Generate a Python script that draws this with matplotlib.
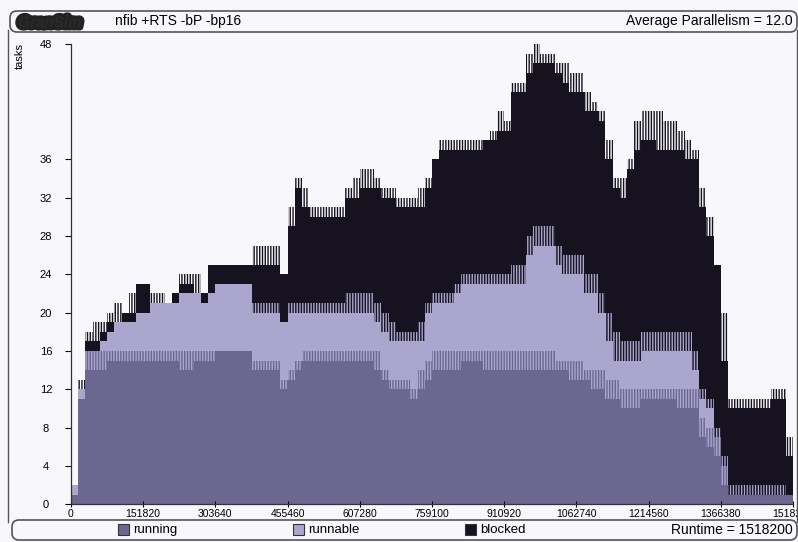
import numpy as np
import matplotlib
matplotlib.use("Agg")
import matplotlib.pyplot as plt
from matplotlib.patches import FancyBboxPatch, Rectangle
import matplotlib.patheffects as pe

plt.rcParams['font.family'] = ['Liberation Sans', 'DejaVu Sans']
plt.rcParams['hatch.linewidth'] = 1.0

# ---- activity profile data (100 equal time slices) ----
runtime = 1518200
n_slices = 100

running = [1, 11, 14, 14, 14, 15, 15, 15, 15, 15,
           15, 15, 15, 15, 15, 14, 14, 15, 15, 15,
           16, 16, 16, 16, 16, 14, 14, 14, 14, 12,
           13, 14, 15, 15, 15, 15, 15, 15, 15, 15,
           15, 15, 14, 13, 12, 12, 12, 11, 12, 13,
           14, 14, 14, 14, 15, 15, 15, 14, 14, 14,
           14, 14, 14, 14, 14, 14, 14, 14, 14, 13,
           13, 13, 12, 12, 11, 11, 10, 10, 10, 11,
           11, 11, 11, 11, 10, 10, 10, 7, 6, 5,
           2, 1, 1, 1, 1, 1, 1, 1, 1, 1]

# flickering upper edge of the running tasks
running_peak = [1, 11, 16, 16, 16, 16, 16, 16, 16, 16,
                16, 16, 16, 16, 16, 16, 16, 16, 16, 16,
                16, 16, 16, 16, 16, 15, 15, 15, 15, 13,
                14, 15, 16, 16, 16, 16, 16, 16, 16, 16,
                16, 16, 16, 14, 13, 13, 13, 12, 14, 15,
                16, 16, 16, 16, 16, 16, 16, 16, 16, 16,
                16, 16, 16, 16, 16, 16, 16, 15, 15, 15,
                15, 14, 14, 14, 13, 13, 12, 12, 12, 12,
                12, 12, 12, 12, 12, 12, 12, 9, 8, 7,
                4, 2, 2, 2, 2, 2, 2, 2, 2, 1]

runnable_top = [2, 12, 16, 16, 17, 18, 19, 19, 19, 20,
                20, 21, 21, 21, 21, 22, 22, 22, 21, 22,
                23, 23, 23, 23, 23, 21, 21, 21, 21, 19,
                21, 21, 21, 21, 21, 21, 21, 21, 22, 22,
                22, 22, 21, 20, 19, 18, 18, 18, 19, 21,
                22, 22, 22, 23, 24, 24, 24, 24, 24, 24,
                24, 25, 25, 28, 29, 29, 29, 27, 26, 26,
                26, 24, 24, 22, 20, 18, 17, 17, 17, 18,
                18, 18, 18, 18, 18, 18, 16, 12, 11, 8,
                5, 2, 2, 2, 2, 2, 2, 2, 2, 1]

# lowest reach of the blocked tasks' flicker into the runnable band
runnable_low = [2, 12, 16, 16, 17, 18, 19, 19, 19, 20,
                20, 21, 21, 21, 21, 22, 22, 22, 21, 22,
                23, 23, 23, 23, 23, 20, 20, 20, 20, 19,
                20, 20, 20, 20, 20, 20, 20, 20, 20, 20,
                20, 20, 19, 18, 17, 17, 17, 17, 17, 20,
                21, 21, 21, 22, 23, 23, 23, 23, 23, 23,
                23, 23, 23, 26, 27, 27, 27, 25, 24, 24,
                24, 22, 22, 20, 17, 15, 15, 15, 15, 16,
                16, 16, 16, 16, 16, 16, 14, 11, 10, 7,
                4, 1, 1, 1, 1, 1, 1, 1, 1, 1]

total = [2, 12, 17, 17, 18, 19, 19, 20, 20, 23,
         23, 21, 21, 21, 22, 23, 23, 22, 22, 25,
         25, 25, 25, 25, 25, 25, 25, 25, 25, 24,
         29, 33, 31, 30, 30, 30, 30, 30, 32, 32,
         33, 33, 33, 32, 32, 31, 31, 31, 31, 33,
         36, 37, 37, 37, 37, 37, 37, 38, 38, 39,
         39, 43, 43, 45, 46, 46, 46, 45, 44, 43,
         43, 41, 41, 40, 36, 33, 32, 35, 37, 38,
         38, 37, 37, 37, 37, 36, 36, 31, 28, 25,
         15, 10, 10, 10, 10, 10, 10, 11, 11, 5]

total_peak = [2, 13, 18, 19, 19, 20, 21, 20, 22, 23,
              23, 22, 22, 21, 22, 24, 24, 24, 22, 25,
              25, 25, 25, 25, 25, 27, 27, 27, 27, 24,
              31, 34, 33, 31, 31, 31, 31, 31, 33, 34,
              35, 35, 34, 33, 33, 32, 32, 32, 33, 34,
              36, 38, 38, 38, 38, 38, 38, 38, 39, 41,
              40, 44, 44, 47, 48, 47, 47, 46, 46, 45,
              45, 43, 42, 41, 38, 34, 34, 36, 40, 41,
              41, 41, 40, 40, 39, 38, 37, 33, 30, 25,
              20, 11, 11, 11, 11, 11, 11, 12, 12, 7]

edges = np.linspace(0, runtime, n_slices + 1)
x_ticks = [0, 151820, 303640, 455460, 607280, 759100,
           910920, 1062740, 1214560, 1366380, 1518200]
y_ticks = [0, 4, 8, 12, 16, 20, 24, 28, 32, 36, 48]

c_running = '#6b6790'
c_runnable = '#aaa6cd'
c_blocked = '#16121f'
c_bg = '#f8f7fb'

W, H = 798, 542
fig = plt.figure(figsize=(W / 100, H / 100), dpi=100, facecolor=c_bg)

# main plot area
ax_l, ax_r, ax_b, ax_t = 71, 793, 504.3, 44.3
ax = fig.add_axes([ax_l / W, 1 - ax_b / H, (ax_r - ax_l) / W, (ax_b - ax_t) / H])
ax.set_facecolor(c_bg)

run = np.array(running, float)
run_hi = np.array(running_peak, float)
rbl = np.array(runnable_top, float)
rbl_lo = np.array(runnable_low, float)
tot = np.array(total, float)
peak = np.array(total_peak, float)

# solid stacked bands
ax.stairs(run, edges, baseline=0, fill=True, color=c_running, lw=0)
ax.stairs(rbl, edges, baseline=run, fill=True, color=c_runnable, lw=0)
ax.stairs(tot, edges, baseline=rbl, fill=True, color=c_blocked, lw=0)

# flickering edges drawn as fine vertical stripes
stripes = '||||||'
ax.stairs(run_hi, edges, baseline=run, fill=True, facecolor='none',
          edgecolor=c_running, hatch=stripes, lw=0)
ax.stairs(rbl, edges, baseline=rbl_lo, fill=True, facecolor='none',
          edgecolor=c_blocked, hatch=stripes, lw=0)
ax.stairs(peak, edges, baseline=tot, fill=True, facecolor='none',
          edgecolor=c_blocked, hatch=stripes, lw=0)

ax.set_xlim(0, runtime)
ax.set_ylim(0, 48)
ax.set_xticks(x_ticks)
ax.set_xticklabels([str(t) for t in x_ticks])
ax.set_yticks(y_ticks)
ax.tick_params(axis='y', direction='out', length=4, width=0.8, labelsize=8, pad=14)
ax.tick_params(axis='x', direction='inout', length=5, width=0.8, labelsize=7.5, pad=1)
for s in ['top', 'right']:
    ax.spines[s].set_visible(False)
for s in ['left', 'bottom']:
    ax.spines[s].set_linewidth(0.9)
    ax.spines[s].set_color('#333333')
for lbl in ax.get_yticklabels():
    lbl.set_horizontalalignment('center')

# overlay in pixel coordinates for frame, header and legend
ov = fig.add_axes([0, 0, 1, 1], facecolor='none')
ov.set_xlim(0, W)
ov.set_ylim(H, 0)
ov.axis('off')

frame_c = '#555555'
ov.add_patch(FancyBboxPatch((10, 11), 787, 21, boxstyle='round,pad=0,rounding_size=7',
                            fill=False, ec=frame_c, lw=1.2))
ov.add_patch(FancyBboxPatch((12, 520), 785, 20, boxstyle='round,pad=0,rounding_size=7',
                            fill=False, ec=frame_c, lw=1.2))
ov.plot([8, 8], [30, 522], color=frame_c, lw=1.0)
ov.plot([797, 797], [30, 522], color=frame_c, lw=1.0)

ov.text(18, 23, 'GranSim', fontsize=11, fontweight='bold', fontstyle='italic',
        color='#2a2a2a', va='center', ha='left',
        path_effects=[pe.Stroke(linewidth=5, foreground='#222222'), pe.Normal()])
ov.text(115, 21, 'nfib +RTS -bP -bp16', fontsize=10, va='center', ha='left')
ov.text(793, 21, 'Average Parallelism = 12.0', fontsize=10, va='center', ha='right')
ov.text(20, 56, 'tasks', fontsize=8, rotation=90, va='center', ha='center')

legend_items = [(118, 'running', c_running), (293, 'runnable', c_runnable),
                (465, 'blocked', c_blocked)]
for x0, name, col in legend_items:
    ov.add_patch(Rectangle((x0, 524), 11, 11, fc=col, ec='#333333', lw=0.8))
    ov.text(x0 + 15, 530, name, fontsize=9.5, va='center', ha='left')
ov.text(793, 530, 'Runtime = 1518200', fontsize=10, va='center', ha='right')

fig.savefig('out.png', dpi=100, facecolor=c_bg)
